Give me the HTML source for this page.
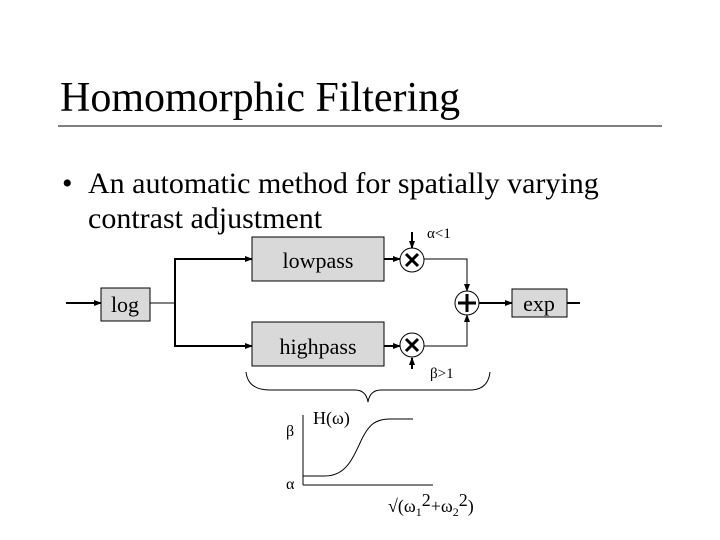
<!DOCTYPE html>
<html><head><meta charset="utf-8"><style>
html,body{margin:0;padding:0;background:#fff}
svg{display:block}
text{font-family:"Liberation Serif",serif;fill:#000}
</style></head><body>
<svg width="720" height="540" viewBox="0 0 720 540" xmlns="http://www.w3.org/2000/svg">
<defs><marker id="a" markerWidth="8" markerHeight="8" refX="7" refY="4" orient="auto" markerUnits="userSpaceOnUse"><path d="M0,1 L8,4 L0,7 z" fill="#000"/></marker></defs>
<text x="60" y="111" font-size="42">Homomorphic Filtering</text>
<line x1="58" y1="126" x2="662" y2="126" stroke="#000" stroke-width="1"/>
<text x="62" y="193" font-size="30">•</text>
<text x="88" y="193" font-size="30">An automatic method for spatially varying</text>
<text x="88" y="228" font-size="30">contrast adjustment</text>
<g stroke="#000" fill="none">
<line x1="66" y1="303" x2="101" y2="303" stroke-width="2" marker-end="url(#a)"/>
<line x1="150" y1="303" x2="175" y2="303"/>
<polyline points="175,303 175,259 252,259" stroke-width="2" marker-end="url(#a)"/>
<polyline points="175,303 175,346 252,346" stroke-width="2" marker-end="url(#a)"/>
<line x1="384" y1="259" x2="400" y2="259" stroke-width="2" marker-end="url(#a)"/>
<line x1="384" y1="346" x2="400" y2="346" stroke-width="2" marker-end="url(#a)"/>
<line x1="412" y1="232" x2="412" y2="248" stroke-width="2" marker-end="url(#a)"/>
<line x1="412" y1="369" x2="412" y2="358" stroke-width="2" marker-end="url(#a)"/>
<polyline points="424,259 467,259 467,291" marker-end="url(#a)"/>
<polyline points="424,346 467,346 467,315" marker-end="url(#a)"/>
<line x1="479" y1="303" x2="512" y2="303" stroke-width="2" marker-end="url(#a)"/>
<line x1="567" y1="303" x2="580" y2="303" stroke-width="2"/>
</g>
<g stroke="#000" fill="#d9d9d9">
<rect x="101" y="288" width="49" height="33"/>
<rect x="252" y="237" width="132" height="44"/>
<rect x="252" y="322" width="132" height="44"/>
<rect x="512" y="289" width="55" height="28"/>
<circle cx="412" cy="260" r="12" fill="#fff"/>
<circle cx="412" cy="345" r="12" fill="#fff"/>
<circle cx="467" cy="303" r="12" fill="#fff"/>
</g>
<g stroke="#000" stroke-width="3">
<path d="M406,254 L418,266 M418,254 L406,266"/>
<path d="M406,339 L418,351 M418,339 L406,351"/>
<path d="M467,294 V312 M458,303 H476"/>
</g>
<text x="125" y="312" font-size="22" text-anchor="middle">log</text>
<text x="318" y="268" font-size="22" text-anchor="middle">lowpass</text>
<text x="318" y="354" font-size="22" text-anchor="middle">highpass</text>
<text x="539" y="311" font-size="22" text-anchor="middle">exp</text>
<text x="427" y="238" font-size="15" font-family="Liberation Sans">α&lt;1</text>
<text x="430" y="378" font-size="15" font-family="Liberation Sans">β&gt;1</text>
<path d="M246,372 Q248,390 270,390 L355,390 Q366,390 368,402 Q370,390 381,390 L470,390 Q488,390 490,372" stroke="#000" fill="none"/>
<g stroke="#000" fill="none">
<line x1="303" y1="415" x2="303" y2="485"/>
<line x1="303" y1="485" x2="433" y2="485"/>
<path d="M303,476 L325,476 C345,476 352,460 360,443 C368,425 375,419 390,419 L413,419"/>
</g>
<text x="286" y="436" font-size="16" font-family="Liberation Sans">β</text>
<text x="286" y="489" font-size="16" font-family="Liberation Sans">α</text>
<text x="313" y="424" font-size="18">H(ω)</text>
<text x="388" y="512" font-size="18">√(ω<tspan font-size="12" dy="4">1</tspan><tspan dy="-10">2</tspan><tspan dy="6">+ω</tspan><tspan font-size="12" dy="4">2</tspan><tspan dy="-10">2</tspan><tspan dy="6">)</tspan></text>
</svg>
</body></html>
